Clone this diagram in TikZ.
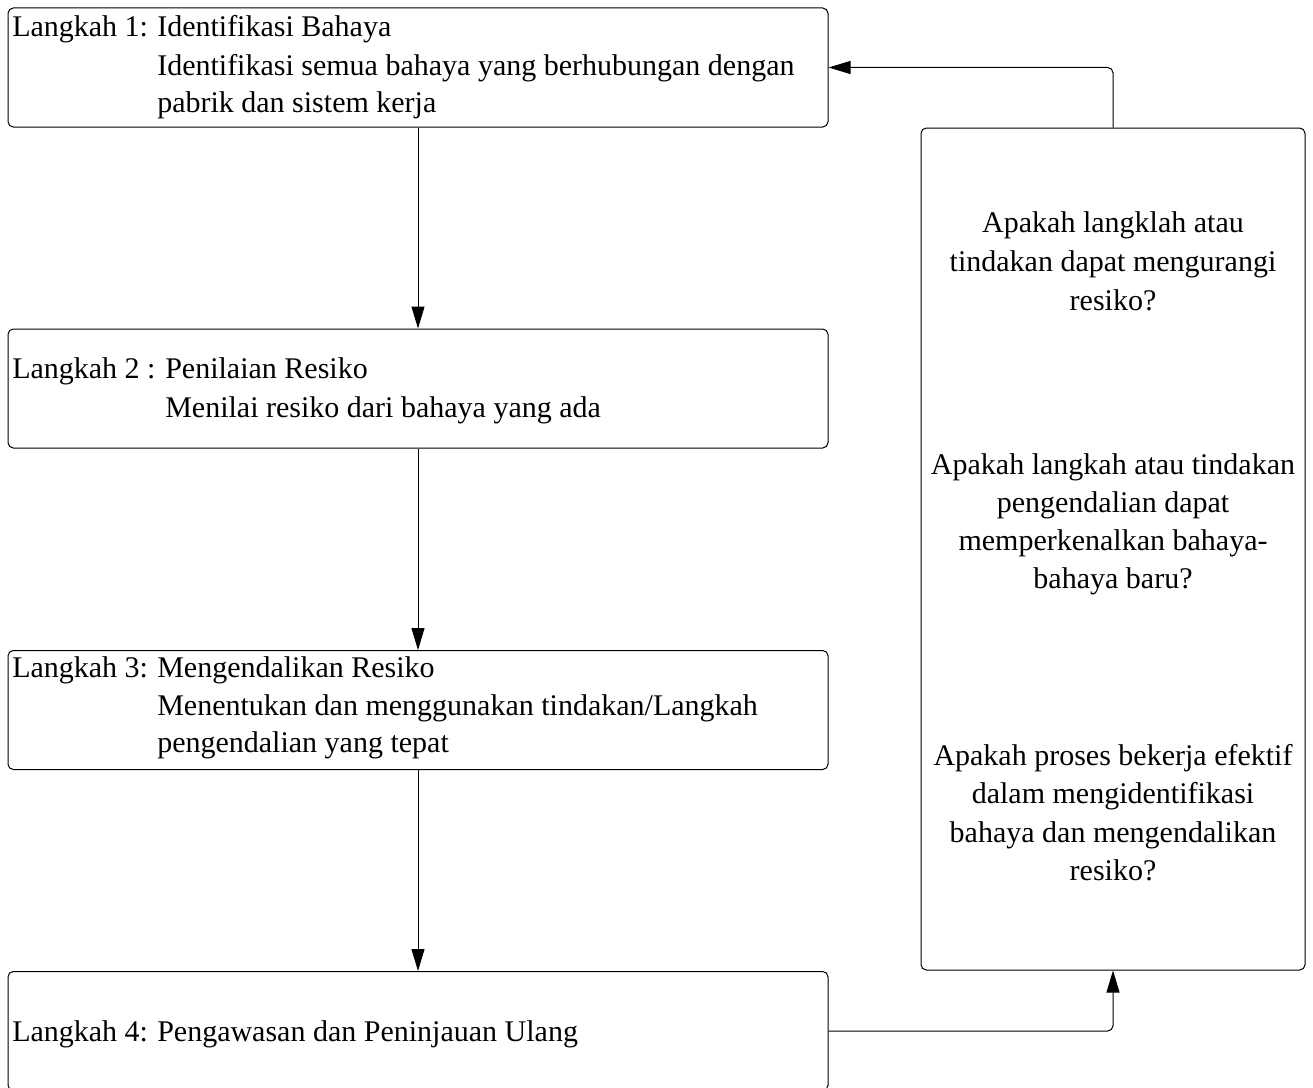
\documentclass[tikz,border=0pt]{standalone}
\usepackage{fontspec}
\setmainfont{Liberation Serif}
\usetikzlibrary{arrows.meta}
\tikzset{
	stepbox/.style={draw, line width=0.75pt, rounded corners=4pt, inner sep=0pt, minimum width=615pt, minimum height=89.25pt},
	checkbox/.style={draw, line width=0.75pt, rounded corners=4pt, inner sep=0pt, minimum width=288pt, minimum height=631.5pt},
	txt/.style={font=\fontsize{22.5pt}{29pt}\selectfont, inner sep=0pt},
	link/.style={line width=0.75pt, rounded corners=4pt, -{Triangle[length=16.5pt,width=9.75pt]}}
}
\begin{document}
\begin{tikzpicture}[x=0.75pt, y=-0.75pt]
	\useasboundingbox (0,0) rectangle (1313,1088);

	\node[stepbox] (b1) at (418,67.5){};
	\node[stepbox] (b2) at (418,388.5){};
	\node[stepbox] (b3) at (418,710){};
	\node[stepbox] (b4) at (418,1031){};
	\node[checkbox] (cek) at (1113,549){};

	\node[txt, anchor=base west] (l1) at (12,37){Langkah 1:};
	\node[txt, anchor=base west] (t1a) at (157,37){Identifikasi Bahaya};
	\node[txt, anchor=base west] (t1b) at (157,75){Identifikasi semua bahaya yang berhubungan dengan};
	\node[txt, anchor=base west] (t1c) at (157,113){pabrik dan sistem kerja};

	\node[txt, anchor=base west] (l2) at (12,378){Langkah 2 :};
	\node[txt, anchor=base west] (t2a) at (165,378){Penilaian Resiko};
	\node[txt, anchor=base west] (t2b) at (165,417){Menilai resiko dari bahaya yang ada};

	\node[txt, anchor=base west] (l3) at (12,677){Langkah 3:};
	\node[txt, anchor=base west] (t3a) at (157,677){Mengendalikan Resiko};
	\node[txt, anchor=base west] (t3b) at (157,715){Menentukan dan menggunakan tindakan/Langkah};
	\node[txt, anchor=base west] (t3c) at (157,752){pengendalian yang tepat};

	\node[txt, anchor=base west] (l4) at (12,1041){Langkah 4:};
	\node[txt, anchor=base west] (t4a) at (157,1041){Pengawasan dan Peninjauan Ulang};

	\node[txt, anchor=base] (q1a) at (1113,232){Apakah langklah atau};
	\node[txt, anchor=base] (q1b) at (1113,271){tindakan dapat mengurangi};
	\node[txt, anchor=base] (q1c) at (1113,310){resiko?};

	\node[txt, anchor=base] (q2a) at (1113,474){Apakah langkah atau tindakan};
	\node[txt, anchor=base] (q2b) at (1113,512){pengendalian dapat};
	\node[txt, anchor=base] (q2c) at (1113,550){memperkenalkan bahaya-};
	\node[txt, anchor=base] (q2d) at (1113,588){bahaya baru?};

	\node[txt, anchor=base] (q3a) at (1113,765){Apakah proses bekerja efektif};
	\node[txt, anchor=base] (q3b) at (1113,803){dalam mengidentifikasi};
	\node[txt, anchor=base] (q3c) at (1113,842){bahaya dan mengendalikan};
	\node[txt, anchor=base] (q3d) at (1113,880){resiko?};

	\draw[link] (b1) -- (b2);
	\draw[link] (b2) -- (b3);
	\draw[link] (b3) -- (b4);
	\draw[link] (b4.east) -| (cek.south);
	\draw[link] (cek.north) |- (b1.east);
\end{tikzpicture}
\end{document}
